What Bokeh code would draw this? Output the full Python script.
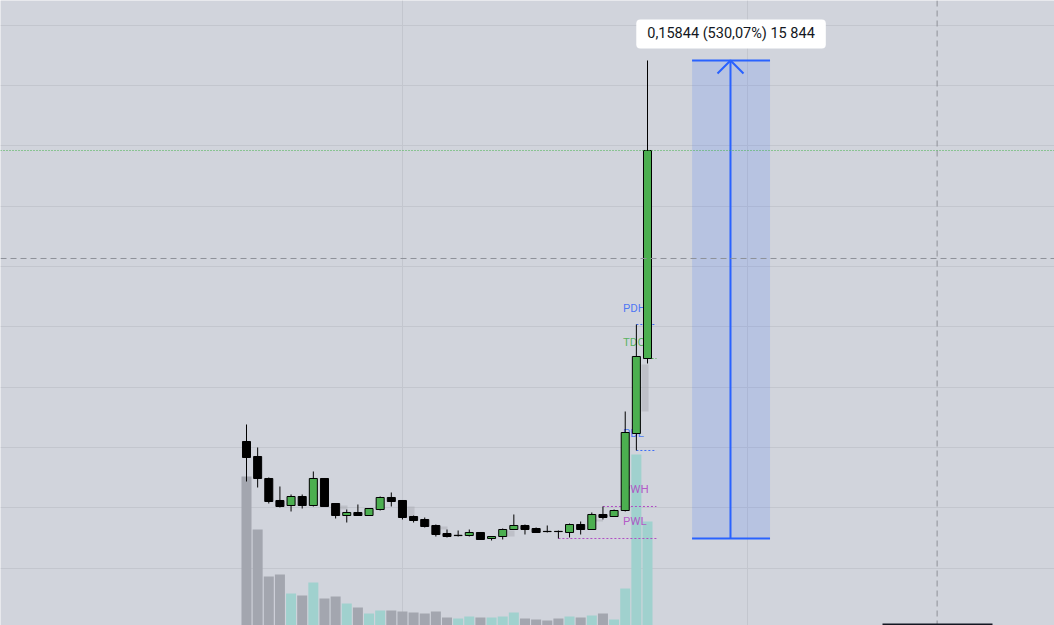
from bokeh.plotting import figure
from bokeh.models import Range1d, Span, Label, FixedTicker, BoxAnnotation
from bokeh.core.properties import value
from bokeh.embed import file_html
from bokeh.resources import INLINE

# ---------------- data ----------------
bars = list(range(37))
opens = [0.06204, 0.05707, 0.04978, 0.04249, 0.04083, 0.04381, 0.04083, 0.04978, 0.04149, 0.03751,
         0.03851, 0.03751, 0.03950, 0.04348, 0.04249, 0.03718, 0.03619, 0.03420, 0.03155, 0.03085,
         0.03088, 0.03188, 0.02989, 0.03055, 0.03287, 0.03420, 0.03320, 0.03225, 0.03225, 0.03188,
         0.03453, 0.03287, 0.03785, 0.03718, 0.03917, 0.06469, 0.08955]
closes = [0.05674, 0.04978, 0.04215, 0.04050, 0.04381, 0.04083, 0.04978, 0.04050, 0.03751, 0.03851,
          0.03751, 0.03983, 0.04348, 0.04215, 0.03685, 0.03586, 0.03387, 0.03122, 0.03055, 0.03095,
          0.03188, 0.02956, 0.03055, 0.03287, 0.03420, 0.03287, 0.03188, 0.03218, 0.03218, 0.03453,
          0.03287, 0.03785, 0.03685, 0.03917, 0.06502, 0.09022, 0.15850]
highs = [0.06768, 0.06005, 0.05011, 0.04713, 0.04447, 0.04447, 0.05210, 0.04978, 0.04149, 0.03950,
         0.04116, 0.03983, 0.04381, 0.04514, 0.04249, 0.03751, 0.03685, 0.03453, 0.03287, 0.03254,
         0.03287, 0.03188, 0.03055, 0.03320, 0.03785, 0.03453, 0.03354, 0.03420, 0.03254, 0.03486,
         0.03552, 0.03851, 0.04050, 0.03950, 0.07199, 0.10082, 0.18833]
lows = [0.04878, 0.04679, 0.04149, 0.04017, 0.03884, 0.03983, 0.04050, 0.04050, 0.03652, 0.03519,
        0.03751, 0.03751, 0.03917, 0.04050, 0.03619, 0.03519, 0.03354, 0.03055, 0.03022, 0.03055,
        0.03055, 0.02956, 0.02923, 0.02956, 0.03287, 0.03122, 0.03188, 0.03188, 0.02989, 0.03022,
        0.03122, 0.03287, 0.03619, 0.03718, 0.03884, 0.05906, 0.08790]
volumes = [149, 96, 49, 51, 32, 30, 43, 27, 29, 22, 18, 12, 15, 15, 14, 13, 12, 14, 8, 7,
           9, 8, 8, 9, 13, 7, 6, 5, 7, 9, 8, 10, 12, 6, 37, 171, 104]

# faint ghost bodies from an overlay
ghost_x = [8.75, 14.77, 17.73, 23.75, 31.69, 35.78]
ghost_top = [0.04083, 0.04050, 0.03387, 0.03254, 0.03619, 0.08756]
ghost_bottom = [0.03950, 0.03685, 0.03287, 0.03055, 0.03552, 0.07199]

level_names = ["PDH", "TDO", "PDL", "PWH", "PWL"]
level_values = [0.10082, 0.08955, 0.05906, 0.04050, 0.02989]
level_start = [35, 36, 35, 32, 28]
level_colors = ["#3d6cf7", "#4caf50", "#3d6cf7", "#b04cc4", "#b04cc4"]

grid_x = [14, 45]
grid_y = [0.02, 0.04, 0.06, 0.08, 0.10, 0.12, 0.14, 0.16, 0.18, 0.20]

last_price = 0.15850
cross_x = 62
cross_y = 0.12270

meas_left, meas_right = 40, 47
meas_from, meas_to = 0.02989, 0.18833
meas_text = "0,15844 (530,07%) 15 844"

# ---------------- figure ----------------
BG = "#d1d4dc"
W, H = 1054, 625
x0, x1 = -22.085, 72.538
y0, y1 = 0.001053, 0.208215

p = figure(width=W, height=H, x_range=Range1d(x0, x1), y_range=Range1d(y0, y1),
           output_backend="svg", toolbar_location=None, min_border=0,
           background_fill_color=BG, border_fill_color=BG, outline_line_color=None)
p.extra_y_ranges = {"vol": Range1d(0, 625)}
p.xaxis.visible = False
p.yaxis.visible = False
p.xgrid.ticker = FixedTicker(ticks=grid_x)
p.ygrid.ticker = FixedTicker(ticks=grid_y)
for g in (p.xgrid, p.ygrid):
    g.grid_line_color = "#c3c6ce"
    g.grid_line_width = 1

# volume
vol_colors = ["#a0d1ce" if c > o else "#a3a6af" for o, c in zip(opens, closes)]
p.vbar(x=bars, top=volumes, bottom=0, width=0.9, fill_color=vol_colors, line_color=None,
       y_range_name="vol")

# ghosts
p.vbar(x=ghost_x, top=ghost_top, bottom=ghost_bottom, width=0.63,
       fill_color="#a6a8af", fill_alpha=0.45, line_color=None)

# level lines + labels
p.segment(x0=level_start, y0=level_values, x1=[36.8] * len(level_values), y1=level_values,
          line_color=level_colors, line_width=1, line_dash="2 2")
p.text(x=[33.8] * len(level_names), y=level_values, text=level_names,
       text_color=level_colors, text_font=value("Roboto"), text_font_size="11.5px",
       text_align="left", text_baseline="middle", y_offset=-17, text_alpha=0.9)

# crosshair and price line
p.add_layout(Span(location=cross_x, dimension="height", line_color="#8e9199",
                  line_dash="6 4", line_width=1))
p.add_layout(Span(location=cross_y, dimension="width", line_color="#8e9199",
                  line_dash="6 4", line_width=1))
p.add_layout(Span(location=last_price, dimension="width", line_color="#3fb34a",
                  line_dash="1 2", line_width=1))

# candles
body_top = [max(o, c) for o, c in zip(opens, closes)]
body_bot = [min(o, c) for o, c in zip(opens, closes)]
body_col = ["#4caf50" if c > o else "#000000" for o, c in zip(opens, closes)]
p.segment(x0=bars, y0=lows, x1=bars, y1=highs, line_color="#000000", line_width=1)
p.vbar(x=bars, top=body_top, bottom=body_bot, width=0.72, fill_color=body_col,
       line_color="#000000", line_width=1)

# measurement tool
mid = (meas_left + meas_right) / 2 - 0.05
p.quad(left=[meas_left], right=[meas_right], bottom=[meas_from], top=[meas_to],
       fill_color="#2962ff", fill_alpha=0.15, line_color=None)
p.segment(x0=[meas_left, meas_left, mid], y0=[meas_from, meas_to, meas_from],
          x1=[meas_right, meas_right, mid], y1=[meas_from, meas_to, meas_to],
          line_color="#2962ff", line_width=2)
px_x = (x1 - x0) / W
px_y = (y1 - y0) / H
p.line(x=[mid - 13 * px_x, mid, mid + 13 * px_x],
       y=[meas_to - 13 * px_y, meas_to, meas_to - 13 * px_y],
       line_color="#2962ff", line_width=2)

lab = Label(x=mid + 0.05, y=meas_to + 26.5 * px_y, text=meas_text,
            text_align="center", text_baseline="middle",
            text_font="Roboto", text_font_size="14.5px", text_color="#131722",
            background_fill_color="#ffffff", background_fill_alpha=1.0,
            border_line_color=None, border_radius=4, padding=dict(x=11, y=6))
p.add_layout(lab)

# edge of the time-axis tooltip peeking at the bottom
p.add_layout(BoxAnnotation(left=882, right=992, bottom=0, top=2,
                           left_units="screen", right_units="screen",
                           bottom_units="screen", top_units="screen",
                           fill_color="#131722", fill_alpha=1.0, line_color=None))

open("out.html", "w").write(file_html(p, INLINE))
